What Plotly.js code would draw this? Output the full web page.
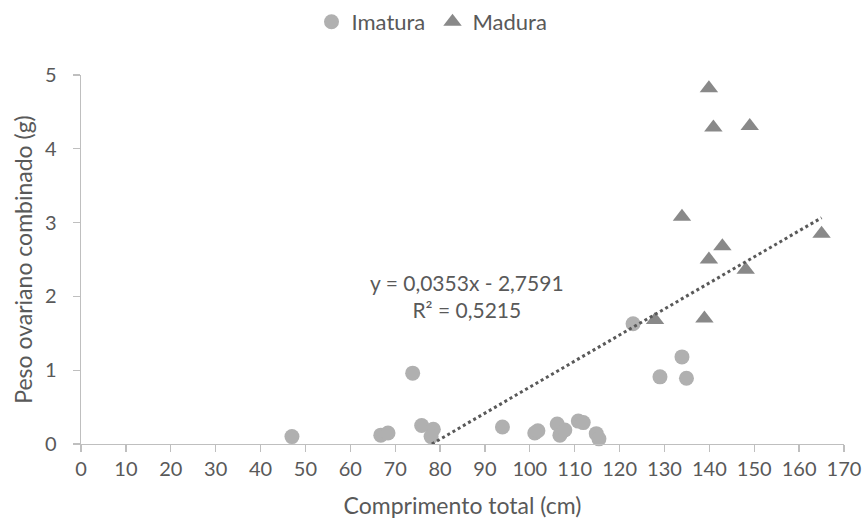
<!DOCTYPE html>
<html>
<head>
<meta charset="utf-8">
<script src="https://cdn.plot.ly/plotly-3.0.1.min.js"></script>
<style>
  html, body { margin: 0; padding: 0; background: #ffffff; }
  #chart { width: 865px; height: 528px; }
</style>
</head>
<body>
<div id="chart"></div>
<script>
// Comprimento total (cm) e peso ovariano combinado (g), por estágio de maturação
const imaturaComprimento = [47, 66.8, 68.4, 73.9, 75.9, 78.5, 78, 93.9, 101.1, 101.8, 106.1, 106.7, 107.8, 110.8, 111.9, 114.8, 115.4, 123, 133.9, 129, 134.9];
const imaturaPeso        = [0.10, 0.12, 0.15, 0.96, 0.25, 0.20, 0.10, 0.23, 0.15, 0.18, 0.27, 0.12, 0.19, 0.31, 0.29, 0.14, 0.07, 1.63, 1.18, 0.91, 0.89];

const maduraComprimento = [139.9, 140.9, 149, 133.9, 165, 142.9, 139.9, 148.1, 127.9, 138.9];
const maduraPeso        = [4.82, 4.29, 4.31, 3.08, 2.85, 2.68, 2.50, 2.36, 1.68, 1.70];

// Linha de tendência linear (ajuste sobre todos os pontos)
const tendInclinacao = 0.0353;
const tendIntercepto = -2.7591;
const tendR2 = 0.5215;

const xTicks = [0, 10, 20, 30, 40, 50, 60, 70, 80, 90, 100, 110, 120, 130, 140, 150, 160, 170];

const todosX = imaturaComprimento.concat(maduraComprimento);
const xMin = Math.min(...todosX);
const xMax = Math.max(...todosX);
const xInicio = Math.max(xMin, -tendIntercepto / tendInclinacao);
const tendX = [xInicio, xMax];
const tendY = tendX.map(x => tendInclinacao * x + tendIntercepto);

const fmt = (v, d) => v.toFixed(d).replace('.', ',');
const sinal = tendIntercepto < 0 ? ' - ' : ' + ';
const equacao = 'y = ' + fmt(tendInclinacao, 4) + 'x' + sinal + fmt(Math.abs(tendIntercepto), 4) +
                '<br>R² = ' + fmt(tendR2, 4);

const fonte = 'Lato, "Open Sans", sans-serif';
const cinzaTexto = '#595959';
const cinzaEixo = '#bfbfbf';

// área de plotagem em pixels
const W = 865, H = 528;
const M = { l: 81, r: 21, t: 75, b: 84 };
const plotW = W - M.l - M.r, plotH = H - M.t - M.b;

const traces = [
  {
    type: 'scatter', mode: 'markers', name: 'Imatura',
    x: imaturaComprimento, y: imaturaPeso,
    marker: { symbol: 'circle', size: 15, color: '#b0b0b0', line: { width: 0 } },
    cliponaxis: false
  },
  {
    type: 'scatter', mode: 'markers', name: 'Madura',
    x: maduraComprimento, y: maduraPeso,
    marker: { symbol: 'triangle-up', size: 16, color: '#898989', line: { width: 0 } },
    cliponaxis: false
  },
  {
    type: 'scatter', mode: 'lines', name: 'Linear',
    x: tendX, y: tendY, showlegend: false,
    line: { color: '#595959', width: 3, dash: 'dot' },
    hoverinfo: 'skip'
  }
];

const layout = {
  width: W, height: H,
  margin: { l: M.l, r: M.r, t: M.t, b: M.b, autoexpand: false },
  paper_bgcolor: '#ffffff', plot_bgcolor: '#ffffff',
  font: { family: fonte, color: cinzaTexto, size: 20 },
  showlegend: true,
  legend: {
    orientation: 'h',
    x: (W / 2 - M.l) / plotW, xanchor: 'center',
    y: 1 + (M.t - 22) / plotH, yanchor: 'middle',
    font: { family: fonte, size: 22, color: cinzaTexto },
    entrywidth: 76, entrywidthmode: 'pixels',
    itemwidth: 30, tracegroupgap: 0
  },
  xaxis: {
    range: [0, 170], tickvals: xTicks, ticktext: xTicks.map(String),
    showgrid: false, zeroline: false,
    showline: true, linecolor: cinzaEixo, linewidth: 1.3,
    ticks: 'outside', ticklen: 7, tickcolor: cinzaEixo, tickwidth: 1.3,
    tickfont: { family: fonte, size: 20, color: cinzaTexto },
    title: { text: 'Comprimento total (cm)', font: { family: fonte, size: 23, color: cinzaTexto }, standoff: 18 }
  },
  yaxis: {
    range: [0, 5], dtick: 1,
    showgrid: false, zeroline: false,
    showline: true, linecolor: cinzaEixo, linewidth: 1.3,
    ticks: 'outside', ticklen: 7, tickcolor: cinzaEixo, tickwidth: 1.3,
    ticklabelstandoff: 12,
    tickfont: { family: fonte, size: 20, color: cinzaTexto },
    title: { text: 'Peso ovariano combinado (g)', font: { family: fonte, size: 23, color: cinzaTexto }, standoff: 6 }
  },
  annotations: [
    {
      xref: 'paper', yref: 'paper',
      x: (467 - M.l) / plotW, y: (H - M.b - 296) / plotH,
      xanchor: 'center', yanchor: 'middle',
      text: equacao, showarrow: false, align: 'center',
      font: { family: fonte, size: 21, color: cinzaTexto }
    }
  ]
};

Plotly.newPlot('chart', traces, layout, { displayModeBar: false, staticPlot: true });
</script>
</body>
</html>
